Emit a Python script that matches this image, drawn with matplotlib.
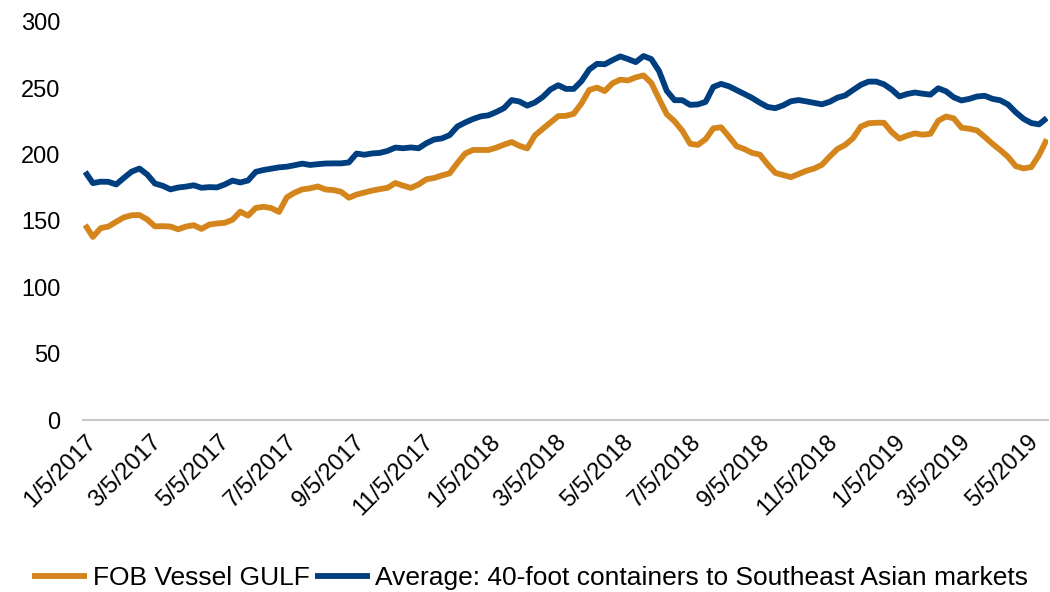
import matplotlib
matplotlib.use("Agg")
import matplotlib.pyplot as plt
import pandas as pd

plt.rcParams['font.family'] = ['Liberation Sans', 'DejaVu Sans']

start_date = "2017-01-05"
n_weeks = 125

fob_vessel_gulf = [
    147, 138, 144.6, 145.8, 149.4, 152.7, 154.3, 154.5, 151.1, 145.9,
    146.1, 145.8, 143.7, 145.8, 146.8, 144, 147.3, 148.1, 148.6, 150.9,
    157, 154, 159.8, 160.7, 159.7, 156.8, 167.8, 171.3, 173.8, 174.6,
    176, 173.7, 173.3, 172, 167.5, 169.9, 171.4, 172.9, 174, 175,
    178.6, 176.6, 174.9, 177.5, 181.4, 182.4, 184.3, 185.9, 193.7, 200.8,
    203.5, 203.5, 203.5, 205.2, 207.5, 209.5, 206.6, 204.7, 214.5, 219.4,
    224.2, 229, 229.2, 230.8, 238.6, 248.7, 250.5, 247.9, 253.8, 256.5,
    255.9, 258.2, 259.7, 254, 242, 230.4, 225.1, 218, 208.2, 207.3,
    211.6, 219.8, 220.6, 213.7, 206.3, 204.2, 201.3, 200, 192.6, 186.2,
    184.6, 183, 185.4, 187.8, 189.5, 192.3, 198.5, 204.2, 207.3, 212.3,
    221, 223.6, 224, 224, 217, 212, 214.3, 216, 215, 215.7,
    225.5, 228.7, 227.3, 220.3, 219.5, 218.2, 213.3, 208.1, 203.4, 198.3,
    191.3, 189.6, 190.6, 199.6, 211.5,
]

avg_40ft_sea = [
    187, 178.5, 179.6, 179.5, 177.5, 182.5, 187.2, 189.5, 185, 178.2,
    176.5, 173.8, 175.2, 175.9, 176.9, 175, 175.5, 175.3, 177.5, 180.4,
    179, 180.5, 187, 188.4, 189.4, 190.4, 190.9, 192, 193.2, 192.2,
    192.8, 193.3, 193.4, 193.4, 194.1, 200.8, 199.9, 200.9, 201.3, 202.8,
    205.3, 204.8, 205.4, 204.8, 208.6, 211.4, 212.2, 214.7, 221.2, 224.2,
    226.8, 228.8, 229.6, 232.1, 235, 241.1, 240, 236.9, 239.3, 243.4,
    249.1, 252.3, 249.5, 249.5, 255.4, 264.1, 268.4, 268.1, 271.2, 274,
    272, 269.7, 274.3, 272, 263, 248, 241, 241, 237.5, 237.8,
    239.7, 251, 253.3, 251.5, 248.6, 245.7, 242.7, 239.1, 235.9, 235,
    237.1, 240.2, 241.1, 240.1, 239, 237.9, 239.8, 242.9, 244.6, 248.6,
    252.5, 255, 255, 253, 249, 243.8, 245.7, 246.8, 245.9, 245.2,
    250, 247.7, 243.2, 240.8, 242, 243.8, 244.3, 242, 240.9, 237.8,
    231.9, 227, 223.8, 222.8, 227.5,
]

tick_labels = ["1/5/2017", "3/5/2017", "5/5/2017", "7/5/2017", "9/5/2017",
               "11/5/2017", "1/5/2018", "3/5/2018", "5/5/2018", "7/5/2018",
               "9/5/2018", "11/5/2018", "1/5/2019", "3/5/2019", "5/5/2019"]
y_ticks = [0, 50, 100, 150, 200, 250, 300]

series_names = ["FOB Vessel GULF",
                "Average: 40-foot containers to Southeast Asian markets"]
colors = ["#D4861C", "#003F7F"]

dates = pd.date_range(start_date, periods=n_weeks, freq="7D")
tick_dates = pd.to_datetime(tick_labels, format="%m/%d/%Y")

fig = plt.figure(figsize=(10.5, 5.92), dpi=100)
ax = fig.add_axes([0.079, 0.2905, 0.919, 0.6725])

ax.plot(dates, fob_vessel_gulf, color=colors[0], lw=4.2, label=series_names[0],
        solid_capstyle='butt', solid_joinstyle='round')
ax.plot(dates, avg_40ft_sea, color=colors[1], lw=4.2, label=series_names[1],
        solid_capstyle='butt', solid_joinstyle='round')

ax.set_ylim(0, 300)
ax.set_yticks(y_ticks)
ax.set_xlim(dates[0] - pd.Timedelta(days=2), dates[-1] + pd.Timedelta(days=1))
ax.set_xticks(tick_dates)
ax.set_xticklabels(tick_labels, rotation=45, ha='right', rotation_mode='anchor')

for s in ['top', 'right', 'left']:
    ax.spines[s].set_visible(False)
ax.spines['bottom'].set_color('#C8C8C8')
ax.spines['bottom'].set_linewidth(1.5)
ax.spines['bottom'].set_linestyle((0, (2, 1)))
ax.tick_params(axis='both', length=0, labelsize=17, colors='black')
ax.tick_params(axis='y', pad=16)
ax.tick_params(axis='x', pad=8)

leg = fig.legend(loc='center', bbox_to_anchor=(0.505, 0.024), ncol=2,
                 frameon=False, fontsize=19, handlelength=2.1,
                 handletextpad=0.2, columnspacing=0.2, borderaxespad=0,
                 borderpad=0)

fig.savefig("out.png", dpi=100)
